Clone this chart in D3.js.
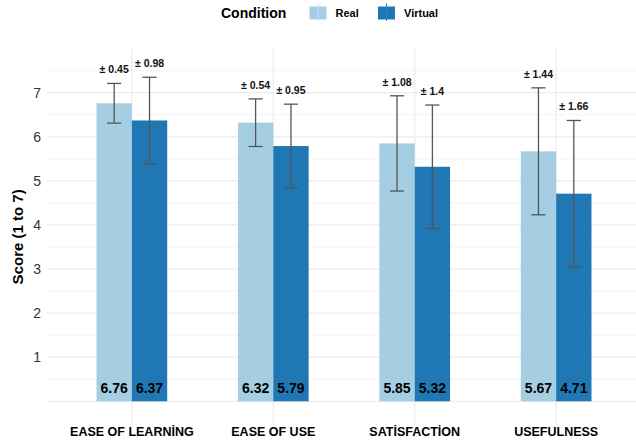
<!DOCTYPE html>
<html>
<head>
<meta charset="utf-8">
<script src="https://cdn.jsdelivr.net/npm/d3@7"></script>
<style>
  body { margin: 0; background: #fff; }
  svg { font-family: "Liberation Sans", Arial, sans-serif; display: block; }
</style>
</head>
<body>
<div id="chart"></div>
<script>
const categories = ["EASE OF LEARNİNG", "EASE OF USE", "SATİSFACTİON", "USEFULNESS"];
const conditions = ["Real", "Virtual"];
const realMeans = [6.76, 6.32, 5.85, 5.67];
const virtualMeans = [6.37, 5.79, 5.32, 4.71];
const realSD = [0.45, 0.54, 1.08, 1.44];
const virtualSD = [0.98, 0.95, 1.4, 1.66];
const yTicks = [1, 2, 3, 4, 5, 6, 7];
const colors = { Real: "#a6cee3", Virtual: "#1f78b4" };

const W = 636, H = 445;
const left = 47, right = 641;

const rows = [];
categories.forEach((c, i) => {
    rows.push({ cat: c, cond: "Real", mean: realMeans[i], sd: realSD[i] });
    rows.push({ cat: c, cond: "Virtual", mean: virtualMeans[i], sd: virtualSD[i] });
});

const svg = d3.select("#chart").append("svg")
    .attr("width", W)
    .attr("height", H);

const x = d3.scaleBand()
    .domain(categories)
    .range([left, right])
    .paddingInner(0.5)
    .paddingOuter(0.35);

const xc = d3.scaleBand()
    .domain(conditions)
    .range([0, x.bandwidth()]);

const y = d3.scaleLinear()
    .domain([0, 7])
    .range([401.3, 92.7]);

const panelTop = y(8.0), panelBottom = y(-0.54);

// grid
const grid = svg.append("g");
d3.range(0.5, 8, 1).forEach(v => {
    grid.append("line")
        .attr("x1", left).attr("x2", right)
        .attr("y1", y(v)).attr("y2", y(v))
        .attr("stroke", "#f0f0f0").attr("stroke-width", 0.8);
});
d3.range(0, 8).forEach(v => {
    grid.append("line")
        .attr("x1", left).attr("x2", right)
        .attr("y1", y(v)).attr("y2", y(v))
        .attr("stroke", "#ebebeb").attr("stroke-width", 1.2);
});
categories.forEach(c => {
    grid.append("line")
        .attr("x1", x(c) + x.bandwidth() / 2).attr("x2", x(c) + x.bandwidth() / 2)
        .attr("y1", panelTop).attr("y2", panelBottom)
        .attr("stroke", "#ebebeb").attr("stroke-width", 1.2);
});

// bars
svg.append("g").selectAll("rect")
    .data(rows)
    .enter().append("rect")
    .attr("x", d => x(d.cat) + xc(d.cond))
    .attr("width", xc.bandwidth())
    .attr("y", d => y(d.mean))
    .attr("height", d => y(0) - y(d.mean))
    .attr("fill", d => colors[d.cond]);

// error bars
const capW = xc.bandwidth() * 0.4;
const eb = svg.append("g").selectAll("g")
    .data(rows)
    .enter().append("g")
    .attr("transform", d => `translate(${x(d.cat) + xc(d.cond) + xc.bandwidth() / 2},0)`);

eb.append("line")
    .attr("y1", d => y(d.mean - d.sd))
    .attr("y2", d => y(d.mean + d.sd))
    .attr("stroke", "#555").attr("stroke-width", 1.3);
eb.append("line")
    .attr("x1", -capW / 2).attr("x2", capW / 2)
    .attr("y1", d => y(d.mean + d.sd)).attr("y2", d => y(d.mean + d.sd))
    .attr("stroke", "#555").attr("stroke-width", 1.3);
eb.append("line")
    .attr("x1", -capW / 2).attr("x2", capW / 2)
    .attr("y1", d => y(d.mean - d.sd)).attr("y2", d => y(d.mean - d.sd))
    .attr("stroke", "#555").attr("stroke-width", 1.3);

// sd labels
eb.append("text")
    .attr("y", d => y(d.mean + d.sd) - 10)
    .attr("text-anchor", "middle")
    .attr("font-size", 10.5)
    .attr("font-weight", "bold")
    .attr("fill", "#111")
    .text(d => "± " + d.sd);

// value labels
eb.append("text")
    .attr("y", y(0.3))
    .attr("dy", "0.36em")
    .attr("text-anchor", "middle")
    .attr("font-size", 14)
    .attr("font-weight", "bold")
    .attr("fill", "#000")
    .text(d => d.mean.toFixed(2));

// axes
const yAxis = svg.append("g")
    .attr("transform", `translate(${left},0)`)
    .call(d3.axisLeft(y).tickValues(yTicks).tickFormat(d3.format("d")).tickSize(0).tickPadding(6))
    .call(g => g.select(".domain").remove());
yAxis.selectAll("text")
    .attr("font-size", 14)
    .attr("font-family", "Liberation Sans, Arial, sans-serif")
    .attr("fill", "#333");

const xAxis = svg.append("g")
    .attr("transform", `translate(0,${panelBottom})`)
    .call(d3.axisBottom(x).tickSize(0).tickPadding(2.5))
    .call(g => g.select(".domain").remove());
xAxis.selectAll("text")
    .attr("font-size", 12.5)
    .attr("font-weight", "bold")
    .attr("font-family", "Liberation Sans, Arial, sans-serif")
    .attr("fill", "#000");

svg.append("text")
    .attr("transform", `translate(23,${(panelTop + panelBottom) / 2}) rotate(-90)`)
    .attr("text-anchor", "middle")
    .attr("font-size", 15)
    .attr("font-weight", "bold")
    .text("Score (1 to 7)");

// legend
const legend = svg.append("g");
legend.append("text")
    .attr("x", 221).attr("y", 18)
    .attr("font-size", 14)
    .attr("font-weight", "bold")
    .text("Condition");

const keyX = { Real: 309.5, Virtual: 378 };
conditions.forEach(c => {
    const k = legend.append("g").attr("transform", `translate(${keyX[c]},0)`);
    k.append("rect")
        .attr("x", 0).attr("y", 6.5)
        .attr("width", 17).attr("height", 13)
        .attr("fill", colors[c]);
    k.append("line")
        .attr("x1", 8.5).attr("x2", 8.5)
        .attr("y1", 3.5).attr("y2", 21)
        .attr("stroke", d3.color(colors[c]).brighter(0.3))
        .attr("stroke-width", 1);
    k.append("text")
        .attr("x", 26).attr("y", 17)
        .attr("font-size", 11)
        .attr("font-weight", "bold")
        .text(c);
});
</script>
</body>
</html>
